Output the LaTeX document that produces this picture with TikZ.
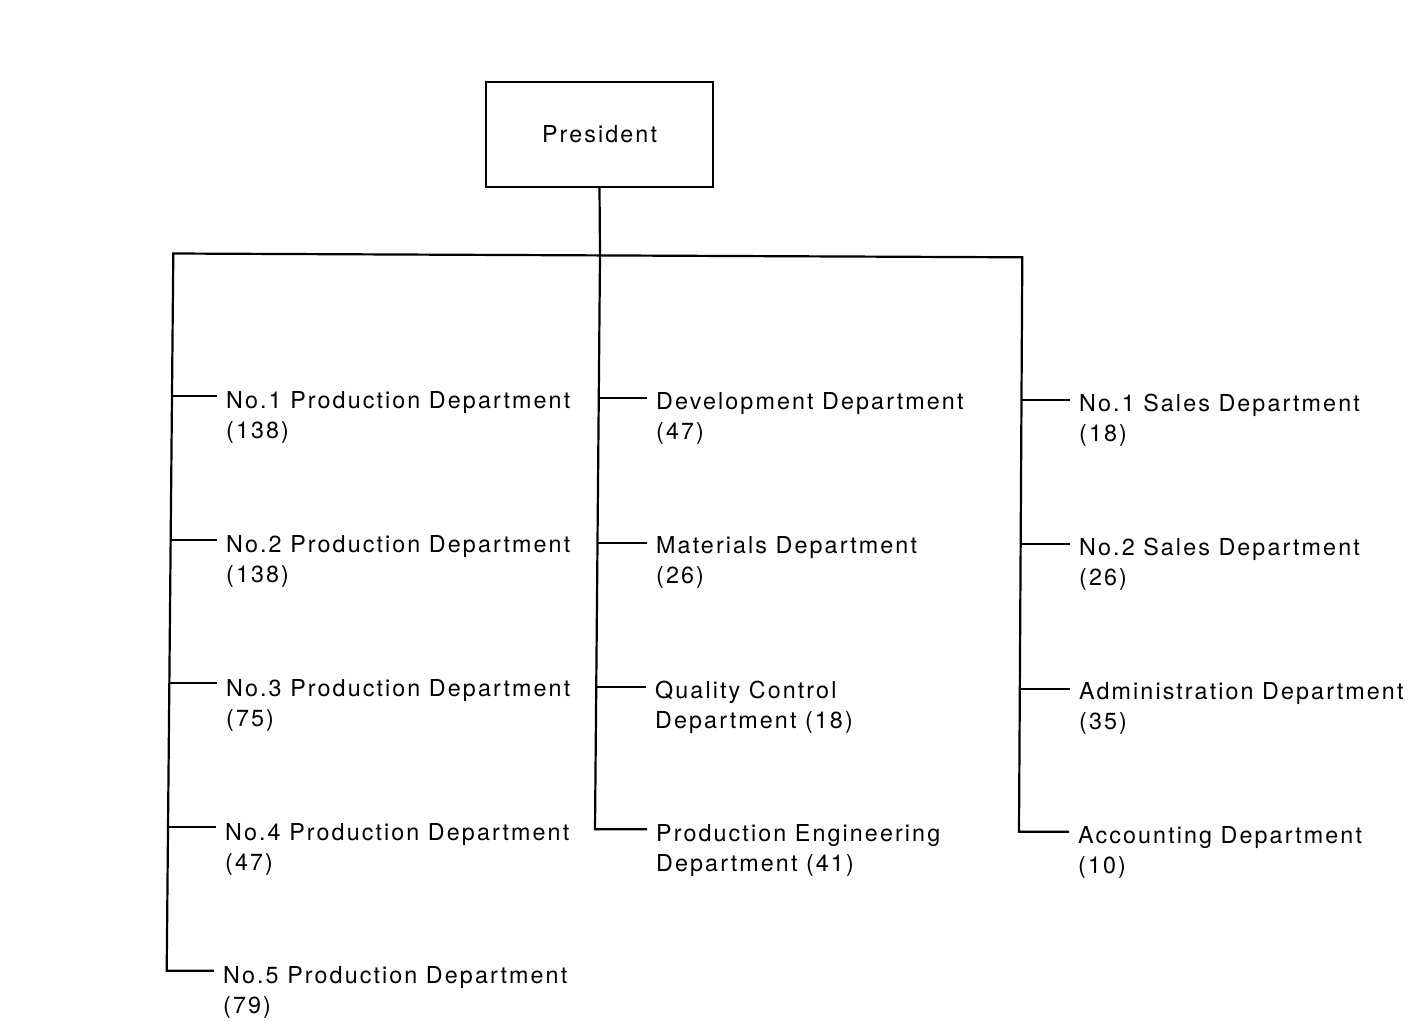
\documentclass[tikz,border=0pt]{standalone}
\usepackage{fontspec}
\newfontfamily\orgfont{TeX Gyre Heros}[LetterSpace=9]
\begin{document}
\begin{tikzpicture}[x=1pt,y=-1pt,
  conn/.style={line width=2.2pt, line join=miter},
  boxnode/.style={draw, line width=2.2pt, minimum width=227pt, minimum height=104.5pt,
    inner sep=0pt, font=\orgfont\fontsize{23.3}{30}\selectfont},
  dept/.style={align=left, anchor=base west, inner xsep=9pt, inner ysep=0pt,
    font=\orgfont\fontsize{23.3}{30}\selectfont}]
\useasboundingbox[fill=white] (0,0) rectangle (1423,1020);

% President
\node[boxnode] (pres) at (599.5,134.5) {President};

% trunk junctions
\coordinate (Ltop) at (173.3,253.5);
\coordinate (Mtop) at (600,255.4);
\coordinate (Rtop) at (1022.3,257.3);
\coordinate (L1) at (172.0,396);
\coordinate (L2) at (170.7,540);
\coordinate (L3) at (169.4,683);
\coordinate (L4) at (168.0,827);
\coordinate (L5) at (166.7,970.7);
\coordinate (M1) at (598.8,398);
\coordinate (M2) at (597.5,543);
\coordinate (M3) at (596.2,687);
\coordinate (M4) at (595.0,829.3);
\coordinate (R1) at (1021.5,400);
\coordinate (R2) at (1020.6,544);
\coordinate (R3) at (1019.8,689);
\coordinate (R4) at (1019.0,831.7);

% departments (base anchor = baseline of the second line)
\node[dept] (p1) at (217,438.5) {No.1 Production Department\\(138)};
\node[dept] (p2) at (217,582.5) {No.2 Production Department\\(138)};
\node[dept] (p3) at (217,726.5) {No.3 Production Department\\(75)};
\node[dept] (p4) at (216,870.5) {No.4 Production Department\\(47)};
\node[dept] (p5) at (214,1013.3) {No.5 Production Department\\(79)};

\node[dept] (m1) at (647,439.5) {Development Department\\(47)};
\node[dept] (m2) at (647,583.5) {Materials Department\\(26)};
\node[dept] (m3) at (646,728.5) {Quality Control\\Department (18)};
\node[dept] (m4) at (647,871.5) {Production Engineering\\Department (41)};

\node[dept] (s1) at (1070,441.5) {No.1 Sales Department\\(18)};
\node[dept] (s2) at (1070,585.5) {No.2 Sales Department\\(26)};
\node[dept] (s3) at (1070,729.5) {Administration Department\\(35)};
\node[dept] (s4) at (1069,873.5) {Accounting Department\\(10)};

% connectors
\draw[conn] (L5 -| p5.west) -- (L5) -- (Ltop) -- (Rtop) -- (R4) -- (R4 -| s4.west);
\draw[conn] (pres.south) -- (Mtop) -- (M4) -- (M4 -| m4.west);
\draw[conn] (L1) -- (L1 -| p1.west);
\draw[conn] (L2) -- (L2 -| p2.west);
\draw[conn] (L3) -- (L3 -| p3.west);
\draw[conn] (L4) -- (L4 -| p4.west);
\draw[conn] (M1) -- (M1 -| m1.west);
\draw[conn] (M2) -- (M2 -| m2.west);
\draw[conn] (M3) -- (M3 -| m3.west);
\draw[conn] (R1) -- (R1 -| s1.west);
\draw[conn] (R2) -- (R2 -| s2.west);
\draw[conn] (R3) -- (R3 -| s3.west);
\end{tikzpicture}
\end{document}
